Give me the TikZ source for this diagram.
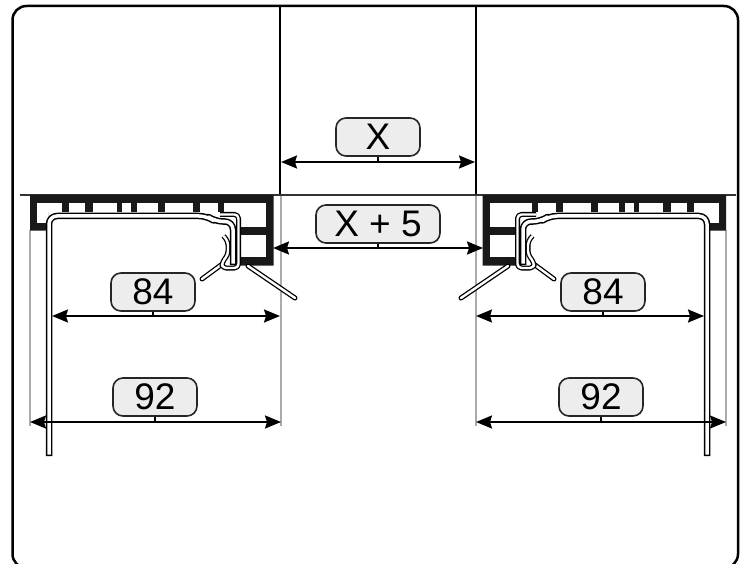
\documentclass[tikz,border=0pt]{standalone}
\usepackage{fontspec}
\setmainfont{Liberation Sans}
\usetikzlibrary{calc, positioning, arrows.meta}
\tikzset{
    border/.style={draw=black, line width=2.5pt, rounded corners=14pt},
    wall/.style={draw=black, line width=2pt},
    datum/.style={draw=black!80, line width=1.6pt},
    witness/.style={draw=black!33, line width=2.5pt},
    dimLine/.style={{Stealth[length=16pt,width=13pt,inset=2pt]}-{Stealth[length=16pt,width=13pt,inset=2pt]}, line width=2pt},
    tick/.style={line width=2pt},
    tag/.style={rectangle, draw=black!85, line width=1.6pt, fill=black!7, rounded corners=10pt, minimum height=38pt, minimum width=84pt, inner sep=0pt, font=\fontsize{37}{38}\selectfont},
    cell/.style={fill=white, draw=none},
    strip/.style={draw=black, line width=6.5pt, line join=round, postaction={draw=white, line width=3.5pt, shorten >=1.5pt, shorten <=1.5pt}},
    flap/.style={draw=black, line width=5pt, line join=round, postaction={draw=white, line width=2.4pt}},
    fin/.style={draw=black, line width=5pt, line cap=round, postaction={draw=white, line width=2.4pt, line cap=round}}
}
\colorlet{brick}{black!90}
% one side of the frame, drawn at the left and mirrored for the right
\newcommand{\frameside}{%
    \fill[brick] (30,195) -- (273.5,195) -- (273.5,265.5) -- (240,265.5) -- (240,212) -- (48,212) -- (48,230.5) -- (30,230.5) -- cycle;
    \foreach \xa/\xb in {69/85, 93/117, 122/131, 137/158, 165/193, 200/218}
        \fill[cell] (\xa,203) rectangle (\xb,212);
    \fill[cell] (37,203) rectangle (62,212);
    \fill[cell] (37,212) rectangle (48,223);
    \fill[cell] (224,203) rectangle (266,227);
    \fill[cell] (241,235) rectangle (266,257);
    % fins
    \draw[fin] (221,265) -- (202,279);
    \draw[fin] (248,266) -- (295,298);
    % strip
    \draw[flap, rounded corners=4pt] (220,214.5) -- (238.5,214.5) -- (238.5,268) -- (222,268) -- (222,262) -- (228,255) -- (228,241) -- (223.5,236);
    \draw[strip, rounded corners=8pt] (49,456) -- (49,216) -- (207,216) -- (215,221.5) -- (233,221.5) -- (233,265);
}
\begin{document}
\begin{tikzpicture}[x=1pt, y=-1pt]
    \useasboundingbox (0,0) rectangle (752,564);

    % Frame
    \draw[border] (12.5,6) rectangle (738,568);

    % Walls
    \draw[wall] (280,6) -- (280,195);
    \draw[wall] (476,6) -- (476,195);
    \draw[datum] (20,195) -- (736,195);

    % Witness lines
    \draw[witness] (30,230) -- (30,426);
    \draw[witness] (281,196) -- (281,426);
    \draw[witness] (476,196) -- (476,426);
    \draw[witness] (726,230) -- (726,426);

    % Profiles
    \frameside
    \begin{scope}[xscale=-1, shift={(-756,0)}]
        \frameside
    \end{scope}

    % End points
    \coordinate (gapL) at (281,162);
    \coordinate (gapR) at (475,162);
    \coordinate (openL) at (273,248);
    \coordinate (openR) at (483,248);
    \coordinate (innerLa) at (52,316);
    \coordinate (innerLb) at (280,316);
    \coordinate (innerRa) at (476,316);
    \coordinate (innerRb) at (704,316);
    \coordinate (outerLa) at (30,422);
    \coordinate (outerLb) at (281,422);
    \coordinate (outerRa) at (476,422);
    \coordinate (outerRb) at (726,422);

    % Dimensions
    \draw[dimLine] (gapL) -- (gapR);
    \draw[dimLine] (openL) -- (openR);
    \draw[dimLine] (innerLa) -- (innerLb);
    \draw[dimLine] (innerRa) -- (innerRb);
    \draw[dimLine] (outerLa) -- (outerLb);
    \draw[dimLine] (outerRa) -- (outerRb);

    % Labels
    \node[tag] (tagX) at (378,137) {X};
    \node[tag, minimum width=124pt] (tagOpen) at (378,224) {X + 5};
    \node[tag] (tagInnerL) at (153,292) {84};
    \node[tag] (tagInnerR) at (603,292) {84};
    \node[tag] (tagOuterL) at (155,397) {92};
    \node[tag] (tagOuterR) at (601,397) {92};

    \draw[tick] (tagX.south) -- (tagX.south |- gapL);
    \draw[tick] (tagOpen.south) -- (tagOpen.south |- openL);
    \draw[tick] (tagInnerL.south) -- (tagInnerL.south |- innerLa);
    \draw[tick] (tagInnerR.south) -- (tagInnerR.south |- innerRa);
    \draw[tick] (tagOuterL.south) -- (tagOuterL.south |- outerLa);
    \draw[tick] (tagOuterR.south) -- (tagOuterR.south |- outerRa);
\end{tikzpicture}
\end{document}
